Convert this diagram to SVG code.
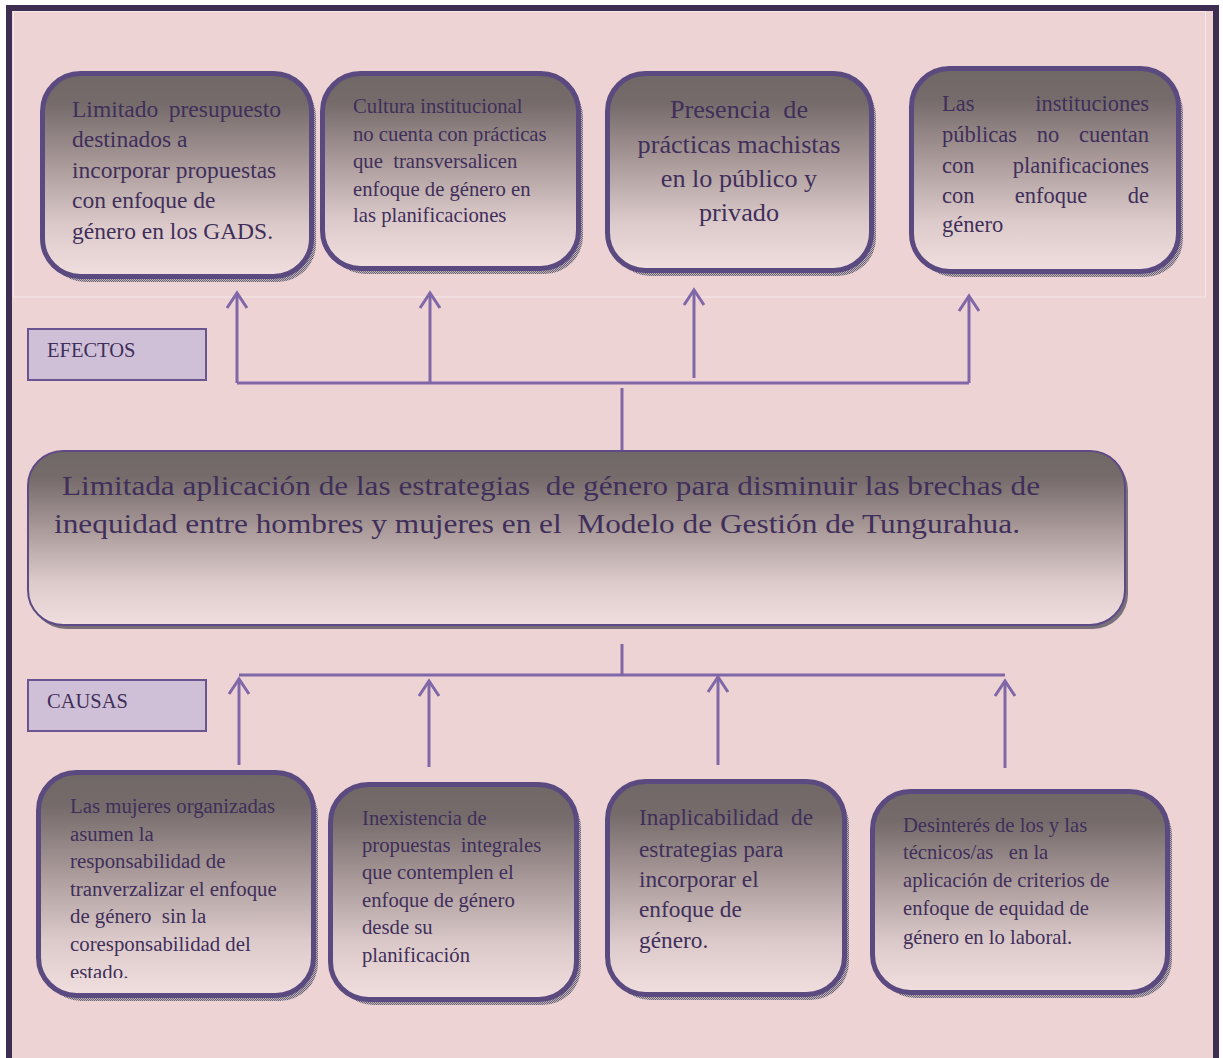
<svg xmlns="http://www.w3.org/2000/svg" width="1223" height="1058" viewBox="0 0 1223 1058">
<defs>
<style>
.t{font-family:'Liberation Serif',Tinos,'Times New Roman',Times,serif;fill:#3f2f5a}
.bx{fill:url(#grad);stroke:#5b4a80;stroke-width:5}
.sh{fill:url(#dots)}
.cn{stroke:#8067a8;stroke-width:3;fill:none}
.ar{stroke:#8067a8;stroke-width:3;fill:none;marker-end:url(#head)}
.lab{fill:#cfc0d8;stroke:#6a5590;stroke-width:2}
</style>
<linearGradient id="grad" x1="0" y1="0" x2="0" y2="1">
<stop offset="0" stop-color="#706866"/>
<stop offset="0.15" stop-color="#756b6a"/>
<stop offset="0.45" stop-color="#aa9a9a"/>
<stop offset="0.75" stop-color="#dccaca"/>
<stop offset="1" stop-color="#f1dfdf"/>
</linearGradient>
<pattern id="dots" width="2" height="2" patternUnits="userSpaceOnUse">
<rect width="2" height="2" fill="#bdb3bb"/>
<rect width="1" height="1" fill="#6e6476"/>
<rect x="1" y="1" width="1" height="1" fill="#6e6476"/>
</pattern>
<marker id="head" markerUnits="userSpaceOnUse" markerWidth="30" markerHeight="30" refX="0" refY="0" viewBox="-20 -15 30 30" orient="auto" overflow="visible">
<path d="M-15,-10 L0,0 L-15,10" fill="none" stroke="#8067a8" stroke-width="3"/>
</marker>
<clipPath id="clipB1"><rect x="36" y="770" width="280" height="208"/></clipPath>
</defs>

<g id="frame">
<rect x="9" y="8" width="1207" height="1070" fill="#eed3d4" stroke="#3e2f52" stroke-width="6"/>
<rect x="13.5" y="11.5" width="1192" height="285.5" fill="none" stroke="#f6e8e8" stroke-width="1"/>
</g>

<g id="connectors">
<path class="cn" d="M237,383 H969 M622,388 V450"/>
<path class="ar" d="M237,383 V293"/>
<path class="ar" d="M430,383 V293"/>
<path class="ar" d="M694,378 V290"/>
<path class="ar" d="M969,383 V296"/>
<path class="cn" d="M622,644 V675 M239,675 H1005"/>
<path class="ar" d="M239,765 V679"/>
<path class="ar" d="M429,767 V681"/>
<path class="ar" d="M718,765 V677"/>
<path class="ar" d="M1005,768 V681"/>
</g>

<g id="label-efectos">
<rect class="lab" x="28" y="329" width="178" height="51"/>
<text class="t" x="47" y="357" font-size="20.5">EFECTOS</text>
</g>
<g id="label-causas">
<rect class="lab" x="28" y="680" width="178" height="51"/>
<text class="t" x="47" y="708" font-size="20.5">CAUSAS</text>
</g>

<g id="central">
<rect x="31" y="455" width="1097" height="174" rx="35" fill="#77707a"/>
<rect x="28" y="451" width="1097" height="174" rx="35" fill="url(#grad)" stroke="#5e4a84" stroke-width="2"/>
<text class="t" font-size="28" xml:space="preserve"><tspan x="62" y="495" textLength="978" lengthAdjust="spacingAndGlyphs">Limitada aplicación de las estrategias  de género para disminuir las brechas de</tspan><tspan x="54" y="533" textLength="966" lengthAdjust="spacingAndGlyphs">inequidad entre hombres y mujeres en el  Modelo de Gestión de Tungurahua.</tspan></text>
</g>

<g id="efecto1">
<rect class="sh" x="47" y="79" width="269" height="203" rx="38"/>
<rect class="bx" x="42.5" y="73.5" width="269" height="203" rx="38"/>
<text class="t" font-size="23.5" xml:space="preserve"><tspan x="72" y="117">Limitado</tspan><tspan x="281" y="117" text-anchor="end">presupuesto</tspan><tspan x="72" y="147">destinados a</tspan><tspan x="72" y="178">incorporar propuestas</tspan><tspan x="72" y="208">con enfoque de</tspan><tspan x="72" y="239">género en los GADS.</tspan></text>
</g>

<g id="efecto2">
<rect class="sh" x="327" y="79" width="256" height="195" rx="38"/>
<rect class="bx" x="322.5" y="73.5" width="256" height="195" rx="38"/>
<text class="t" font-size="20.7" xml:space="preserve"><tspan x="353" y="113">Cultura institucional</tspan><tspan x="353" y="141">no cuenta con prácticas</tspan><tspan x="353" y="168">que  transversalicen</tspan><tspan x="353" y="196">enfoque de género en</tspan><tspan x="353" y="222">las planificaciones</tspan></text>
</g>

<g id="efecto3">
<rect class="sh" x="612" y="79" width="264" height="197" rx="38"/>
<rect class="bx" x="607.5" y="73.5" width="264" height="197" rx="38"/>
<text class="t" font-size="26.2" text-anchor="middle" xml:space="preserve"><tspan x="739" y="118">Presencia  de</tspan><tspan x="739" y="153">prácticas machistas</tspan><tspan x="739" y="187">en lo público y</tspan><tspan x="739" y="221">privado</tspan></text>
</g>

<g id="efecto4">
<rect class="sh" x="916" y="74" width="267" height="203" rx="38"/>
<rect class="bx" x="911.5" y="68.5" width="267" height="203" rx="38"/>
<g class="t" font-size="22.5">
<text x="942" y="111">Las</text><text x="1149" y="111" text-anchor="end">instituciones</text>
<text x="942" y="142">públicas</text><text x="1048" y="142" text-anchor="middle">no</text><text x="1149" y="142" text-anchor="end">cuentan</text>
<text x="942" y="173">con</text><text x="1149" y="173" text-anchor="end">planificaciones</text>
<text x="942" y="203">con</text><text x="1051" y="203" text-anchor="middle">enfoque</text><text x="1149" y="203" text-anchor="end">de</text>
<text x="942" y="232">género</text>
</g>
</g>

<g id="causa1">
<rect class="sh" x="43" y="778" width="275" height="223" rx="38"/>
<rect class="bx" x="38.5" y="772.5" width="275" height="223" rx="38"/>
<text class="t" font-size="20.8" clip-path="url(#clipB1)" xml:space="preserve"><tspan x="70" y="813">Las mujeres organizadas</tspan><tspan x="70" y="841">asumen la</tspan><tspan x="70" y="868">responsabilidad de</tspan><tspan x="70" y="896">tranverzalizar el enfoque</tspan><tspan x="70" y="923">de género  sin la</tspan><tspan x="70" y="951">coresponsabilidad del</tspan><tspan x="70" y="979">estado.</tspan></text>
</g>

<g id="causa2">
<rect class="sh" x="335" y="790" width="246" height="215" rx="38"/>
<rect class="bx" x="330.5" y="784.5" width="246" height="215" rx="38"/>
<text class="t" font-size="20.7" xml:space="preserve"><tspan x="362" y="825">Inexistencia de</tspan><tspan x="362" y="852">propuestas  integrales</tspan><tspan x="362" y="879">que contemplen el</tspan><tspan x="362" y="907">enfoque de género</tspan><tspan x="362" y="934">desde su</tspan><tspan x="362" y="962">planificación</tspan></text>
</g>

<g id="causa3">
<rect class="sh" x="612" y="787" width="237" height="213" rx="38"/>
<rect class="bx" x="607.5" y="781.5" width="237" height="213" rx="38"/>
<text class="t" font-size="23.3" xml:space="preserve"><tspan x="639" y="825">Inaplicabilidad</tspan><tspan x="813" y="825" text-anchor="end">de</tspan><tspan x="639" y="857">estrategias para</tspan><tspan x="639" y="887">incorporar el</tspan><tspan x="639" y="917">enfoque de</tspan><tspan x="639" y="948">género.</tspan></text>
</g>

<g id="causa4">
<rect class="sh" x="877" y="797" width="295" height="201" rx="38"/>
<rect class="bx" x="872.5" y="791.5" width="295" height="201" rx="38"/>
<text class="t" font-size="20.6" xml:space="preserve"><tspan x="903" y="832">Desinterés de los y las</tspan><tspan x="903" y="859">técnicos/as   en la</tspan><tspan x="903" y="887">aplicación de criterios de</tspan><tspan x="903" y="915">enfoque de equidad de</tspan><tspan x="903" y="944">género en lo laboral.</tspan></text>
</g>
</svg>
